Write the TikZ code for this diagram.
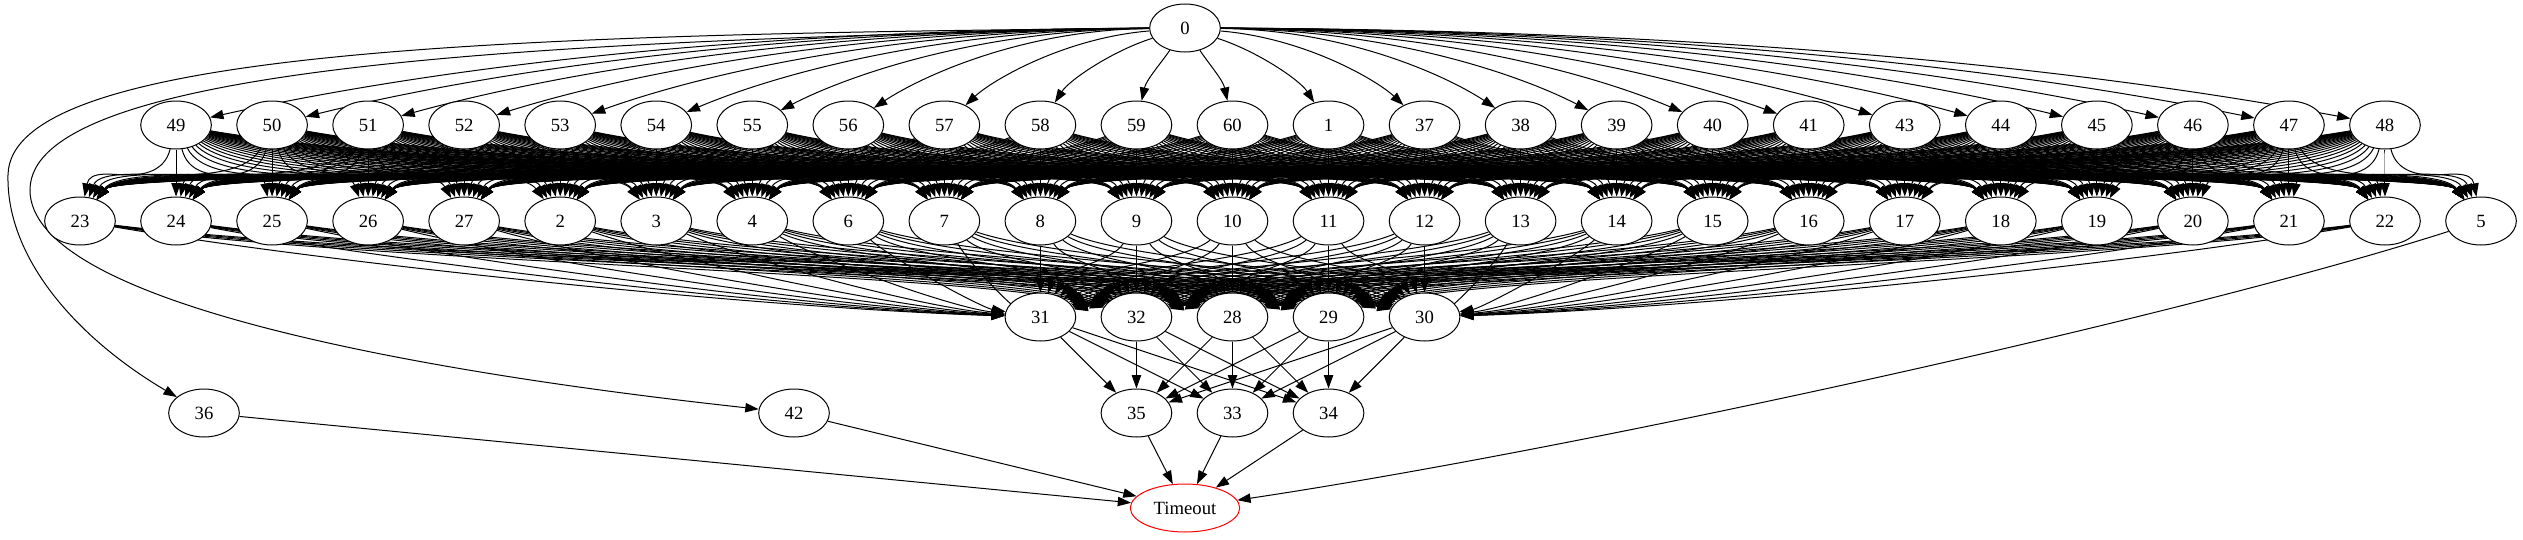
\documentclass[tikz,border=0pt]{standalone}
\usepackage{fontspec}
\setmainfont{Liberation Serif}
\usetikzlibrary{shapes.geometric,arrows.meta}
\pgfdeclarelayer{edgelayer}
\pgfsetlayers{edgelayer,main}
\begin{document}
\begin{tikzpicture}[x=0.75pt,y=-0.75pt,
  gnode/.style={ellipse,draw,fill=white,line width=0.75pt,minimum width=53pt,minimum height=36pt,inner sep=0pt,font=\fontsize{14}{16}\selectfont},
  tnode/.style={gnode,draw=red,minimum width=82pt},
  edge/.style={line width=0.75pt,-{Triangle[length=10pt,width=7pt]}}]
\useasboundingbox (0,0) rectangle (2523,539);
% nodes
\node[gnode] (n0) at (1185,28) {0};
\foreach \a [count=\j from 1] in {49,50,51,52,53,54,55,56,57,58,59,60,1,37,38,39,40,41,43,44,45,46,47,48}{
  \pgfmathsetmacro\mxa{80+96.04*\j}
  \node[gnode] (n\a) at (\mxa,125) {\a};
}
\foreach \b [count=\i from 0] in {23,24,25,26,27,2,3,4,6,7,8,9,10,11,12,13,14,15,16,17,18,19,20,21,22,5}{
  \pgfmathsetmacro\mxb{80+96.04*\i}
  \node[gnode] (n\b) at (\mxb,221) {\b};
}
\foreach \c [count=\i from 10] in {31,32,28,29,30}{
  \pgfmathsetmacro\mxc{80+96.04*\i}
  \node[gnode] (n\c) at (\mxc,317) {\c};
}
\foreach \c [count=\i from 11] in {35,33,34}{
  \pgfmathsetmacro\mxc{80+96.04*\i}
  \node[gnode] (n\c) at (\mxc,413) {\c};
}
\node[gnode] (n36) at (204,413) {36};
\node[gnode] (n42) at (794,413) {42};
\node[tnode] (nT) at (1185,508) {Timeout};
\begin{pgfonlayer}{edgelayer}
% 0 -> row 1
\foreach \a [count=\j from 1] in {49,50,51,52,53,54,55,56,57,58,59,60,1,37,38,39,40,41,43,44,45,46,47,48}{
  \pgfmathsetmacro\mxa{80+96.04*\j}
  \pgfmathsetmacro\mdx{\mxa-1185}
  \pgfmathsetmacro\mca{1185+0.5*\mdx}
  \pgfmathsetmacro\mcy{70-40*min(abs(\mdx)/300,1)}
  \pgfmathsetmacro\mcb{\mxa-0.2*\mdx}
  \draw[edge] (n0) .. controls (\mca,\mcy) and (\mcb,80) .. (n\a);
}
% 0 -> 36, 42
\draw[edge] (n0) .. controls (500,34) and (10,50) .. (8,175) .. controls (6,260) and (80,340) .. (n36);
\draw[edge] (n0) .. controls (500,40) and (30,70) .. (30,190) .. controls (30,300) and (400,370) .. (n42);
% row 1 -> row 2
\foreach \a [count=\j from 1] in {49,50,51,52,53,54,55,56,57,58,59,60,1,37,38,39,40,41,43,44,45,46,47,48}{
  \foreach \b [count=\i from 0] in {23,24,25,26,27,2,3,4,6,7,8,9,10,11,12,13,14,15,16,17,18,19,20,21,22,5}{
    \pgfmathsetmacro\mxa{80+96.04*\j}
    \pgfmathsetmacro\mxb{80+96.04*\i}
    \pgfmathsetmacro\mdx{\mxb-\mxa}
    \pgfmathsetmacro\mm{(\mxa+\mxb)/2}
    \pgfmathsetmacro\mca{\mxa+0.12*\mdx}
    \pgfmathsetmacro\mcb{\mxa+0.35*\mdx}
    \pgfmathsetmacro\mcc{\mxa+0.65*\mdx}
    \pgfmathsetmacro\mh{ifthenelse(\mdx>0,1,-1)*min(0.1*abs(\mdx),40)}
    \pgfmathsetmacro\mcd{\mxb-\mh}
    \draw[edge] (n\a) .. controls (\mca,172) and (\mcb,175) .. (\mm,175) .. controls (\mcc,175) and (\mcd,170) .. (n\b);
  }
}
% row 2 -> row 3
\foreach \b [count=\i from 0] in {23,24,25,26,27,2,3,4,6,7,8,9,10,11,12,13,14,15,16,17,18,19,20,21,22}{
  \foreach \c [count=\t from 0] in {31,32,28,29,30}{
    \pgfmathsetmacro\mxb{80+96.04*\i}
    \pgfmathsetmacro\mxc{80+96.04*(\t+10)}
    \pgfmathsetmacro\mdx{\mxc-\mxb}
    \pgfmathsetmacro\mca{\mxb+0.25*\mdx}
    \pgfmathsetmacro\mhz{or(and(\t==0,\mdx>1),and(\t==4,\mdx<-1))}
    \pgfmathsetmacro\mcb{ifthenelse(\mhz>0.5,\mxc-0.3*\mdx,\mxc-0.15*\mdx)}
    \pgfmathsetmacro\mcy{ifthenelse(\mhz>0.5,308,272)}
    \draw[edge] (n\b) .. controls (\mca,262) and (\mcb,\mcy) .. (n\c);
  }
}
% row 3 -> row 4
\foreach \c in {31,32,28,29,30}{
  \foreach \d in {35,33,34}{
    \draw[edge] (n\c) -- (n\d);
  }
}
% -> Timeout
\foreach \d in {35,33,34,36,42}{
  \draw[edge] (n\d) -- (nT);
}
\draw[edge] (n5) .. controls (2181,317) and (1585,448) .. (nT);
\end{pgfonlayer}
\end{tikzpicture}
\end{document}
